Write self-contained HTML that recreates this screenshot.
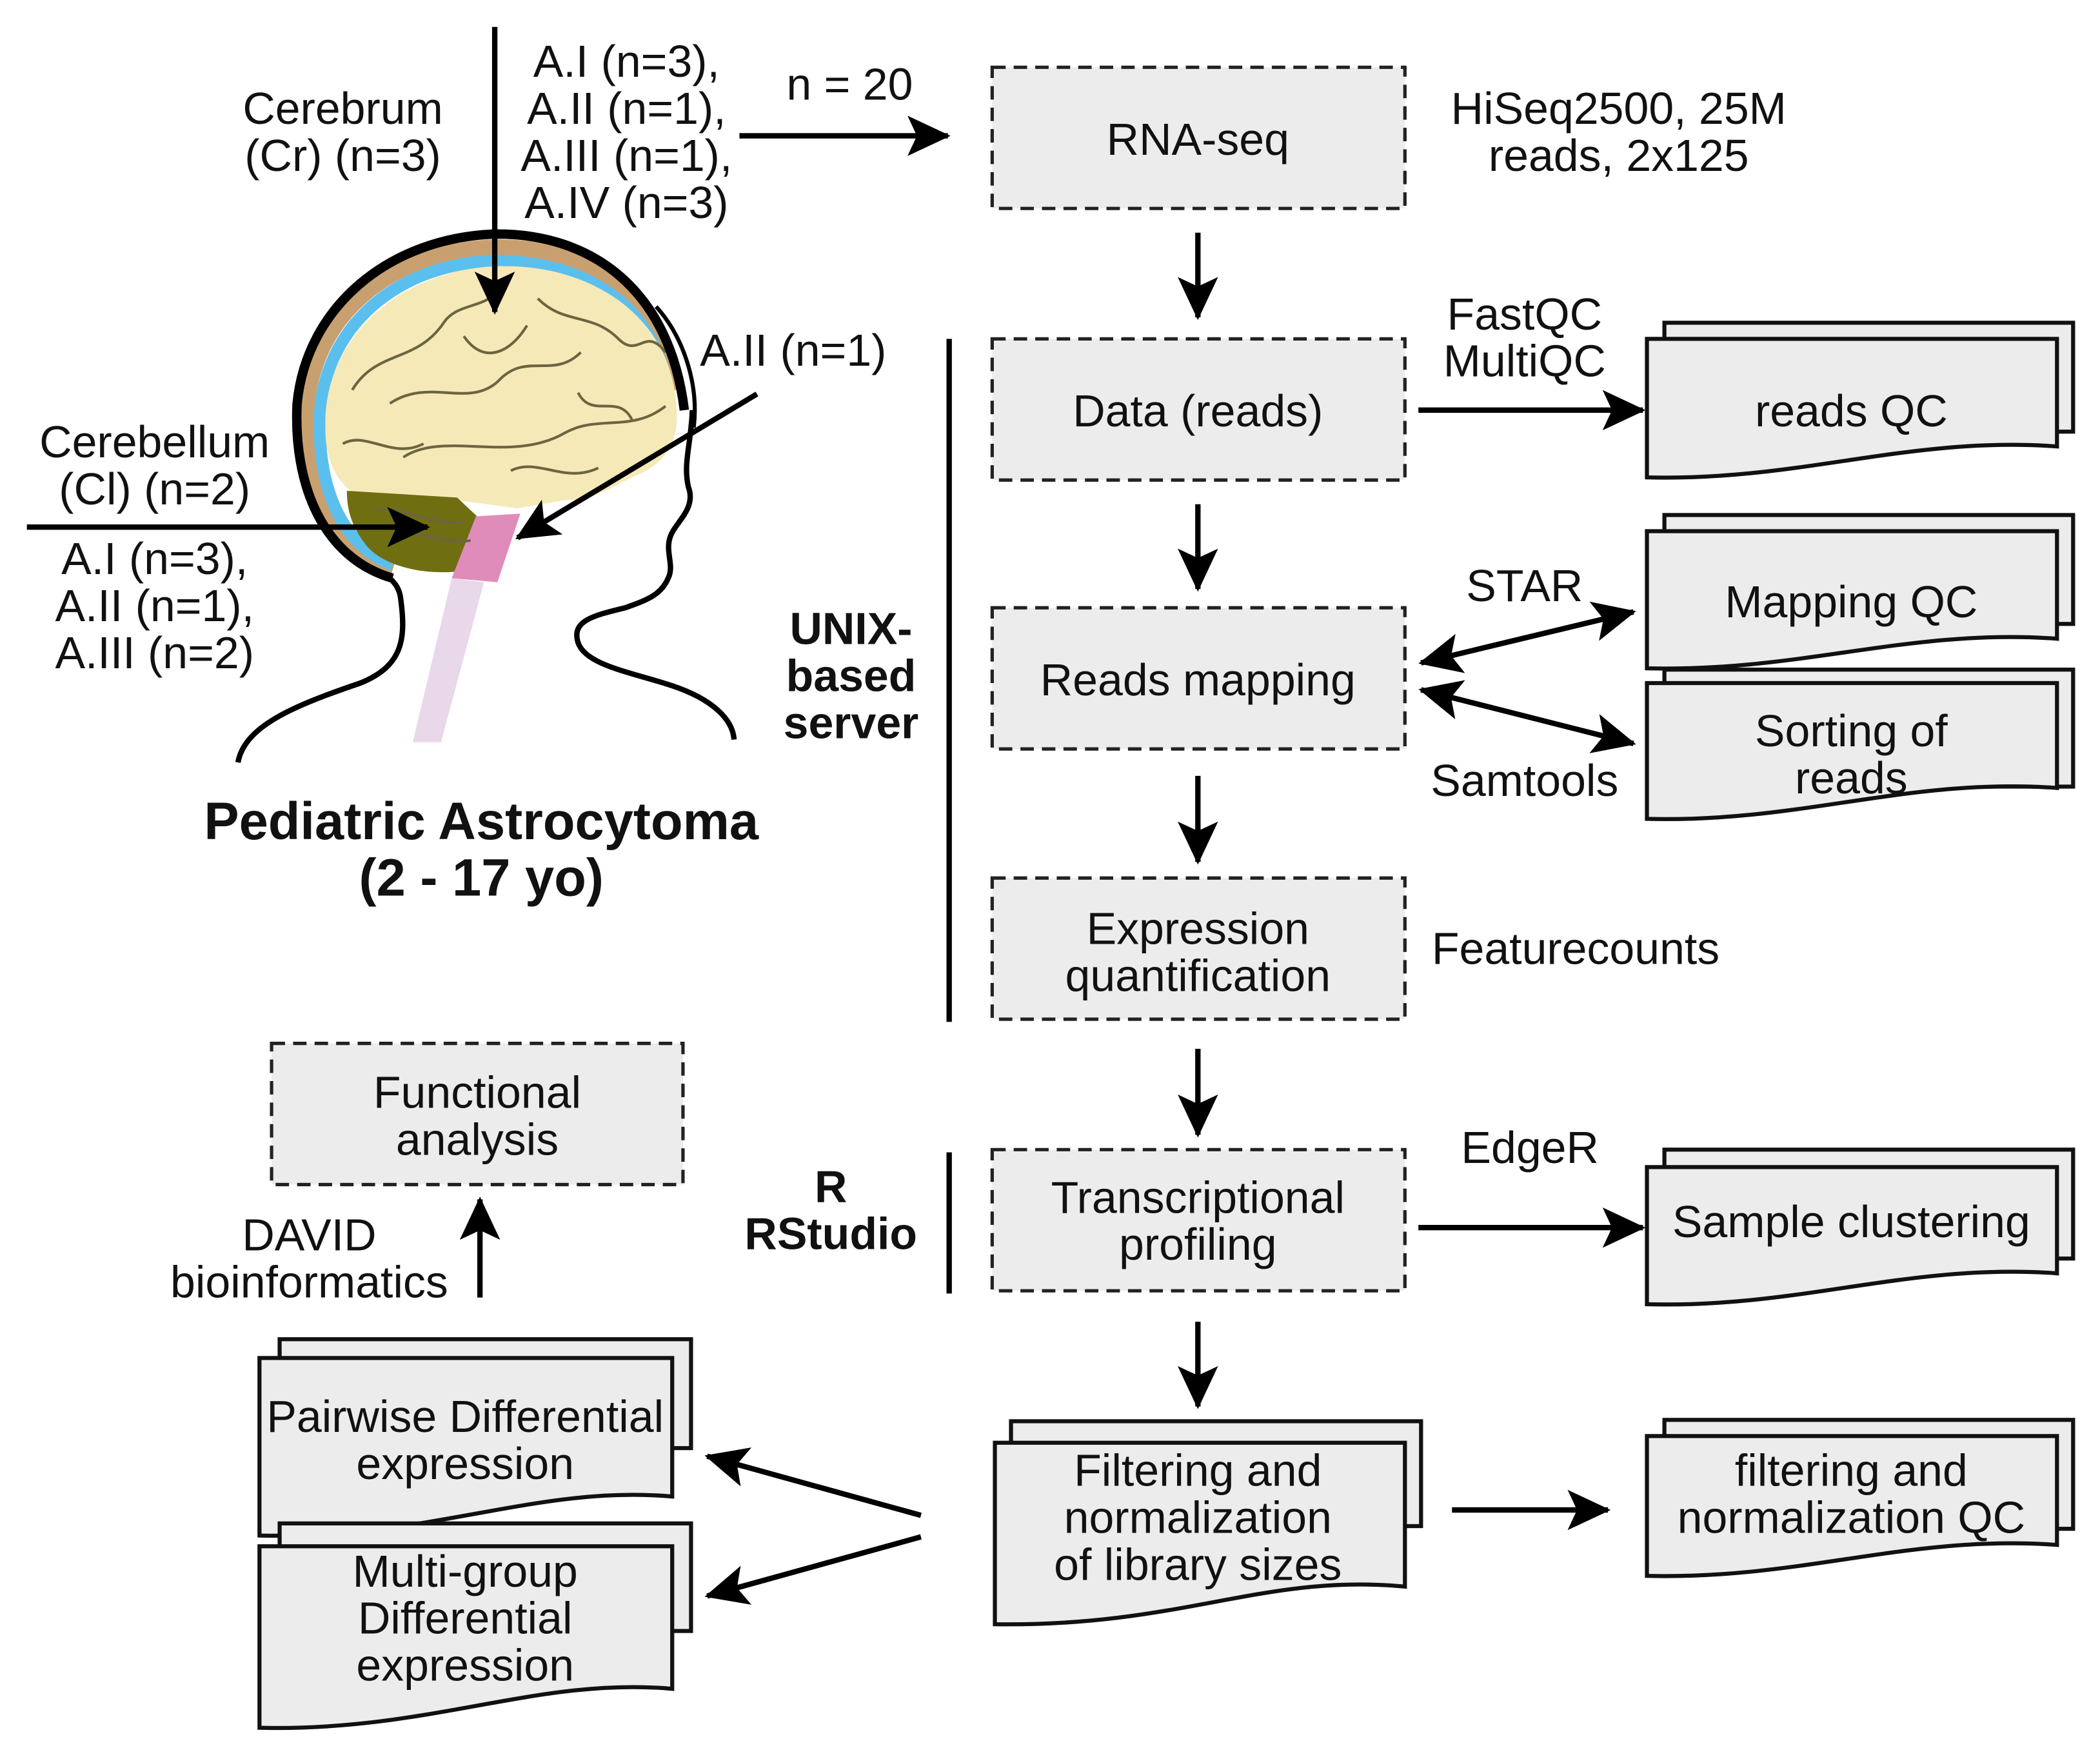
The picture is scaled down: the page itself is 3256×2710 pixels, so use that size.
<!DOCTYPE html>
<html><head><meta charset="utf-8"><style>
html,body{margin:0;padding:0;background:#fff;}
svg{display:block;}
text{font-family:"Liberation Sans",sans-serif;fill:#111;}
</style></head><body>
<svg width="3256" height="2710" viewBox="0 0 1562 1300" xmlns="http://www.w3.org/2000/svg">
<defs>
<marker id="a" markerUnits="userSpaceOnUse" markerWidth="34" markerHeight="30" refX="30" refY="15" orient="auto-start-reverse">
<path d="M0,0 L32,15 L0,30 L7,15 Z" fill="#000"/></marker>
</defs>
<rect width="1562" height="1300" fill="#fff"/>

<!-- Brain illustration -->
<g>
<path d="M292,424 C245,410 226,360 228,305 C232,235 290,186 368,184 C440,183 492,220 503,290" fill="none" stroke="#c8a070" stroke-width="12"/>
<path d="M292,420 C252,404 236,360 238,308 C242,242 296,196 368,194 C436,194 488,228 497,292" fill="none" stroke="#5bbfee" stroke-width="9"/>
<path d="M242,318 C240,250 300,200 370,198 C440,196 498,235 503,300 C506,330 495,345 470,355 C450,365 440,372 420,372 L385,378 L340,372 L262,366 C248,355 242,340 242,318 Z" fill="#f6e9b8"/>
<path d="M258,365 L340,370 L356,385 L354,423 C320,430 285,422 272,405 C262,392 258,380 258,365 Z" fill="#6f6f12"/>
<polygon points="354,384 387,382 370,433 336,430" fill="#e08cbb"/>
<polygon points="336,430 360,433 328,552 307,552" fill="#e9d7ea"/>
<g fill="none" stroke="#6b6540" stroke-width="2">
<path d="M262,290 C280,260 310,270 330,240 C340,225 360,230 372,215"/>
<path d="M290,300 C320,280 350,305 372,282 C392,262 412,282 432,262"/>
<path d="M300,340 C330,320 380,345 420,322 C445,308 470,322 495,302"/>
<path d="M400,222 C420,242 440,232 460,252 C475,267 480,242 495,262"/>
<path d="M255,330 C272,320 292,342 315,330"/>
<path d="M345,250 C360,272 380,262 392,242"/>
<path d="M430,292 C440,312 460,292 470,312"/>
<path d="M280,380 C300,375 320,392 345,388"/>
<path d="M290,398 C310,392 325,405 350,402"/>
<path d="M380,350 C400,340 420,360 445,348"/>
</g>
<path d="M292,430 C240,415 218,360 221,300 C228,228 290,176 370,174 C440,174 498,215 509,305" fill="none" stroke="#000" stroke-width="7"/>
<path d="M488,228 C508,250 520,285 516,318" fill="none" stroke="#000" stroke-width="3"/>
<path d="M515,305 C514,330 508,345 512,362 C518,378 503,388 499,398 C494,410 502,420 497,430 C492,442 482,446 465,452 C440,458 425,462 430,478 C436,495 470,500 500,510 C530,520 545,535 546,550" fill="none" stroke="#000" stroke-width="4"/>
<path d="M262,415 C280,425 296,428 298,445 C302,475 300,495 268,508 C218,525 182,540 177,567" fill="none" stroke="#000" stroke-width="4"/>
</g>

<!-- Brain arrows -->
<line x1="368" y1="20" x2="368" y2="232" stroke="#000" stroke-width="4" marker-end="url(#a)"/>
<line x1="20" y1="392" x2="318" y2="392" stroke="#000" stroke-width="4" marker-end="url(#a)"/>
<line x1="563" y1="293" x2="385" y2="400" stroke="#000" stroke-width="4" marker-end="url(#a)"/>

<!-- Brain labels -->
<g font-size="33.5" text-anchor="middle">
<text x="255" y="92">Cerebrum</text>
<text x="255" y="127">(Cr) (n=3)</text>
<text x="466" y="57">A.I (n=3),</text>
<text x="466" y="92">A.II (n=1),</text>
<text x="466" y="127">A.III (n=1),</text>
<text x="466" y="162">A.IV (n=3)</text>
<text x="632" y="74">n = 20</text>
<text x="590" y="272">A.II (n=1)</text>
<text x="115" y="340">Cerebellum</text>
<text x="115" y="375">(Cl) (n=2)</text>
<text x="115" y="427">A.I (n=3),</text>
<text x="115" y="462">A.II (n=1),</text>
<text x="115" y="497">A.III (n=2)</text>
</g>
<g font-size="39" font-weight="bold" text-anchor="middle">
<text x="358" y="624">Pediatric Astrocytoma</text>
<text x="358" y="666">(2 - 17 yo)</text>
</g>
<g font-size="33.5" font-weight="bold" text-anchor="middle">
<text x="633" y="479">UNIX-</text>
<text x="633" y="514">based</text>
<text x="633" y="549">server</text>
<text x="618" y="894">R</text>
<text x="618" y="929">RStudio</text>
</g>
<line x1="706" y1="252" x2="706" y2="760" stroke="#000" stroke-width="4"/>
<line x1="706" y1="857" x2="706" y2="962" stroke="#000" stroke-width="4"/>

<line x1="550" y1="101" x2="705" y2="101" stroke="#000" stroke-width="4" marker-end="url(#a)"/>

<!-- Dashed boxes -->
<g fill="#ececec" stroke="#222" stroke-width="2.5" stroke-dasharray="10 6">
<rect x="738" y="50" width="307" height="105"/>
<rect x="738" y="252" width="307" height="105"/>
<rect x="738" y="452" width="307" height="105"/>
<rect x="738" y="653" width="307" height="105"/>
<rect x="738" y="855" width="307" height="105"/>
<rect x="202" y="776" width="306" height="105"/>
</g>
<g font-size="33.5" text-anchor="middle">
<text x="891" y="115">RNA-seq</text>
<text x="891" y="317">Data (reads)</text>
<text x="891" y="517">Reads mapping</text>
<text x="891" y="702">Expression</text>
<text x="891" y="737">quantification</text>
<text x="891" y="902">Transcriptional</text>
<text x="891" y="937">profiling</text>
<text x="355" y="824">Functional</text>
<text x="355" y="859">analysis</text>
</g>

<g stroke="#000" stroke-width="4">
<line x1="891" y1="173" x2="891" y2="236" marker-end="url(#a)"/>
<line x1="891" y1="375" x2="891" y2="438" marker-end="url(#a)"/>
<line x1="891" y1="577" x2="891" y2="641" marker-end="url(#a)"/>
<line x1="891" y1="780" x2="891" y2="844" marker-end="url(#a)"/>
<line x1="891" y1="983" x2="891" y2="1046" marker-end="url(#a)"/>
<line x1="1055" y1="305" x2="1222" y2="305" marker-end="url(#a)"/>
<line x1="1057" y1="493" x2="1215" y2="455" marker-start="url(#a)" marker-end="url(#a)"/>
<line x1="1057" y1="513" x2="1215" y2="553" marker-start="url(#a)" marker-end="url(#a)"/>
<line x1="1055" y1="913" x2="1222" y2="913" marker-end="url(#a)"/>
<line x1="1080" y1="1123" x2="1196" y2="1123" marker-end="url(#a)"/>
<line x1="685" y1="1127" x2="526" y2="1083" marker-end="url(#a)"/>
<line x1="685" y1="1143" x2="526" y2="1187" marker-end="url(#a)"/>
<line x1="357" y1="965" x2="357" y2="892" marker-end="url(#a)"/>
</g>

<g font-size="33.5" text-anchor="middle">
<text x="1204" y="92">HiSeq2500, 25M</text>
<text x="1204" y="127">reads, 2x125</text>
<text x="1134" y="245">FastQC</text>
<text x="1134" y="280">MultiQC</text>
<text x="1134" y="447">STAR</text>
<text x="1134" y="592">Samtools</text>
<text x="1172" y="717">Featurecounts</text>
<text x="1138" y="865">EdgeR</text>
<text x="230" y="930">DAVID</text>
<text x="230" y="965">bioinformatics</text>
</g>

<g fill="#ececec" stroke="#111" stroke-width="3">
<rect x="1238" y="240" width="304" height="81"/>
<path d="M1225,252 H1530 V332 C1420,324 1340,358 1225,355 Z"/>
<rect x="1238" y="383" width="304" height="81"/>
<path d="M1225,395 H1530 V475 C1420,467 1340,500 1225,497 Z"/>
<rect x="1238" y="498" width="304" height="87"/>
<path d="M1225,508 H1530 V586 C1420,578 1340,612 1225,609 Z"/>
<rect x="1238" y="855" width="304" height="81"/>
<path d="M1225,868 H1530 V947 C1420,939 1340,973 1225,970 Z"/>
<rect x="1238" y="1056" width="304" height="81"/>
<path d="M1225,1068 H1530 V1149 C1420,1141 1340,1175 1225,1172 Z"/>
<rect x="752" y="1057" width="305" height="78"/>
<path d="M740,1073 H1045 V1180 C940,1170 880,1210 740,1208 Z"/>
<rect x="208" y="996" width="306" height="81"/>
<path d="M193,1010 H500 V1113 C400,1104 320,1145 193,1142 Z"/>
<rect x="208" y="1133" width="306" height="80"/>
<path d="M193,1150 H500 V1256 C400,1247 320,1288 193,1285 Z"/>
</g>
<g font-size="33.5" text-anchor="middle">
<text x="1377" y="317">reads QC</text>
<text x="1377" y="459">Mapping QC</text>
<text x="1377" y="555">Sorting of</text>
<text x="1377" y="590">reads</text>
<text x="1377" y="920">Sample clustering</text>
<text x="1377" y="1105">filtering and</text>
<text x="1377" y="1140">normalization QC</text>
<text x="891" y="1105">Filtering and</text>
<text x="891" y="1140">normalization</text>
<text x="891" y="1175">of library sizes</text>
<text x="346" y="1065">Pairwise Differential</text>
<text x="346" y="1100">expression</text>
<text x="346" y="1180">Multi-group</text>
<text x="346" y="1215">Differential</text>
<text x="346" y="1250">expression</text>
</g>
</svg>
</body></html>
